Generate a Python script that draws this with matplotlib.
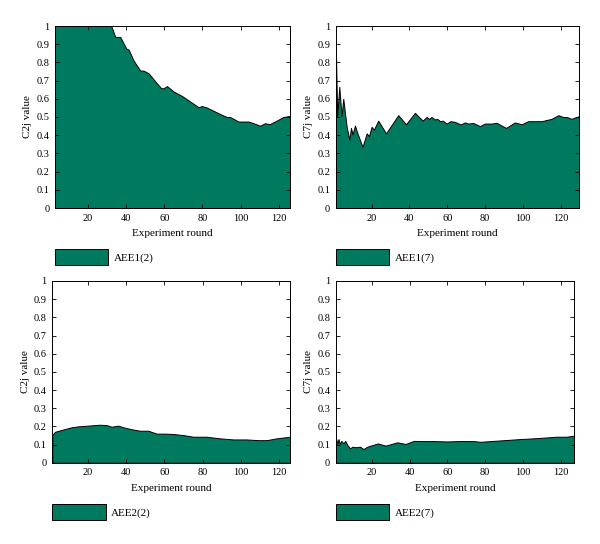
import matplotlib
matplotlib.use("Agg")
import matplotlib.pyplot as plt
import numpy as np

plt.rcParams['font.family'] = ['Liberation Serif', 'DejaVu Serif']
plt.rcParams['font.size'] = 7.5

green = '#007a5e'

# AEE1(2) -> C2j value
x_a12 = [2.7, 10, 20, 32.2, 34.3, 36.9, 40, 41.3, 43.9, 47.4, 49.1, 51.8, 56.1, 58.4,
         59.6, 61.4, 64.9, 66.6, 69.2, 73.6, 77.9, 79.7, 82.3, 85.8, 90.2, 92.8,
         94.5, 98.9, 104.1, 106.7, 110.2, 112.8, 115.1, 118.9, 122.4, 125.9]
y_a12 = [1.0, 1.0, 1.0, 1.0, 0.94, 0.94, 0.877, 0.87, 0.81, 0.755, 0.755, 0.74, 0.685,
         0.658, 0.658, 0.67, 0.64, 0.63, 0.616, 0.585, 0.554, 0.56, 0.552, 0.534,
         0.512, 0.5, 0.5, 0.475, 0.475, 0.466, 0.452, 0.466, 0.46, 0.48, 0.5, 0.506]

# AEE1(7) -> C7j value
x_a17 = [1, 1.8, 2.9, 4.1, 5.0, 6.8, 8.2, 9.1, 9.9, 11.2, 12.4, 15.2, 17.4, 18.6, 20,
         21.2, 23.5, 27.6, 34.1, 38.2, 42.9, 47, 49.1, 50.5, 51.7, 53.5, 54.7, 56.2,
         57.6, 59.7, 61.8, 64.1, 67.1, 69.4, 71.1, 73.8, 77.3, 80, 83.5, 86.1, 91.1,
         95.8, 99.4, 102.9, 110, 115.2, 118.8, 121.4, 123.2, 125.8, 129.9]
y_a17 = [0.92, 0.505, 0.666, 0.505, 0.6, 0.446, 0.376, 0.44, 0.404, 0.453, 0.413,
         0.336, 0.41, 0.395, 0.446, 0.43, 0.48, 0.41, 0.51, 0.46, 0.523, 0.48, 0.5,
         0.49, 0.5, 0.486, 0.49, 0.477, 0.48, 0.464, 0.477, 0.473, 0.459, 0.47, 0.464,
         0.467, 0.45, 0.464, 0.464, 0.468, 0.44, 0.47, 0.46, 0.477, 0.477, 0.49, 0.51,
         0.5, 0.5, 0.49, 0.505]

# AEE2(2) -> C2j value
x_a22 = [1.6, 3, 6.4, 11.7, 15.1, 20.3, 26.4, 29.9, 32.5, 36, 38.6, 43, 47.3, 51.7,
         56, 60.3, 64.7, 69.9, 75.1, 78.6, 82, 89, 96, 103, 109, 113.4, 118.6, 125.6]
y_a22 = [0.152, 0.17, 0.18, 0.195, 0.2, 0.204, 0.209, 0.207, 0.198, 0.204, 0.195,
         0.184, 0.176, 0.176, 0.16, 0.16, 0.158, 0.152, 0.143, 0.143, 0.143, 0.134,
         0.128, 0.128, 0.124, 0.124, 0.134, 0.143]

# AEE2(7) -> C7j value
x_a27 = [1, 1.9, 2.5, 3.1, 4, 5.1, 6, 7.2, 8.6, 9.8, 11.6, 13.9, 15.6, 17.7, 20.4,
         23.3, 27.4, 33.5, 37.9, 42.3, 47.5, 52.8, 59.8, 66.8, 73.9, 77.4, 84.4,
         91.4, 98.4, 105.4, 112.5, 117.7, 123, 126.9]
y_a27 = [0.14, 0.106, 0.13, 0.103, 0.12, 0.106, 0.12, 0.097, 0.079, 0.088, 0.085,
         0.088, 0.075, 0.088, 0.097, 0.106, 0.094, 0.112, 0.103, 0.12, 0.119, 0.119,
         0.117, 0.119, 0.119, 0.115, 0.12, 0.125, 0.13, 0.134, 0.139, 0.143, 0.143,
         0.149]

panels = [
    (x_a12, y_a12, 'C2j value', 'AEE1(2)', [55, 26, 290, 208], (2.7, 125.9)),
    (x_a17, y_a17, 'C7j value', 'AEE1(7)', [335.7, 26, 579.3, 208], (1, 129.9)),
    (x_a22, y_a22, 'C2j value', 'AEE2(2)', [52.3, 281, 290, 462.7], (1.6, 125.6)),
    (x_a27, y_a27, 'C7j value', 'AEE2(7)', [335.7, 281, 574, 462.7], (1, 126.9)),
]

W, H = 600, 544
fig = plt.figure(figsize=(W / 100, H / 100), dpi=100)

for xs, ys, ylab, name, (x0, y0, x1, y1), xl in panels:
    ax = fig.add_axes([x0 / W, 1 - y1 / H, (x1 - x0) / W, (y1 - y0) / H])
    ax.fill_between(xs, 0, ys, facecolor=green, edgecolor='black', linewidth=0.7,
                    label=name)
    ax.set_xlim(*xl)
    ax.set_ylim(0, 1)
    ax.set_xticks([20, 40, 60, 80, 100, 120])
    ax.set_yticks(np.arange(0, 1.01, 0.1))
    ax.set_yticklabels(['0', '0.1', '0.2', '0.3', '0.4', '0.5', '0.6', '0.7',
                        '0.8', '0.9', '1'])
    ax.tick_params(direction='in', top=True, right=True, length=3, width=0.6,
                   pad=4, labelsize=7.5)
    for s in ax.spines.values():
        s.set_linewidth(0.7)
    ax.set_xlabel('Experiment round', fontsize=8, labelpad=5)
    ax.set_ylabel(ylab, fontsize=8, labelpad=3)
    hgt = y1 - y0
    ax.legend(loc='upper left', bbox_to_anchor=(0, -(41 / hgt)), frameon=False,
              borderpad=0, borderaxespad=0, handlelength=4.8, handleheight=1.9,
              handletextpad=0.5, fontsize=8)

fig.savefig('out.png', dpi=100)
